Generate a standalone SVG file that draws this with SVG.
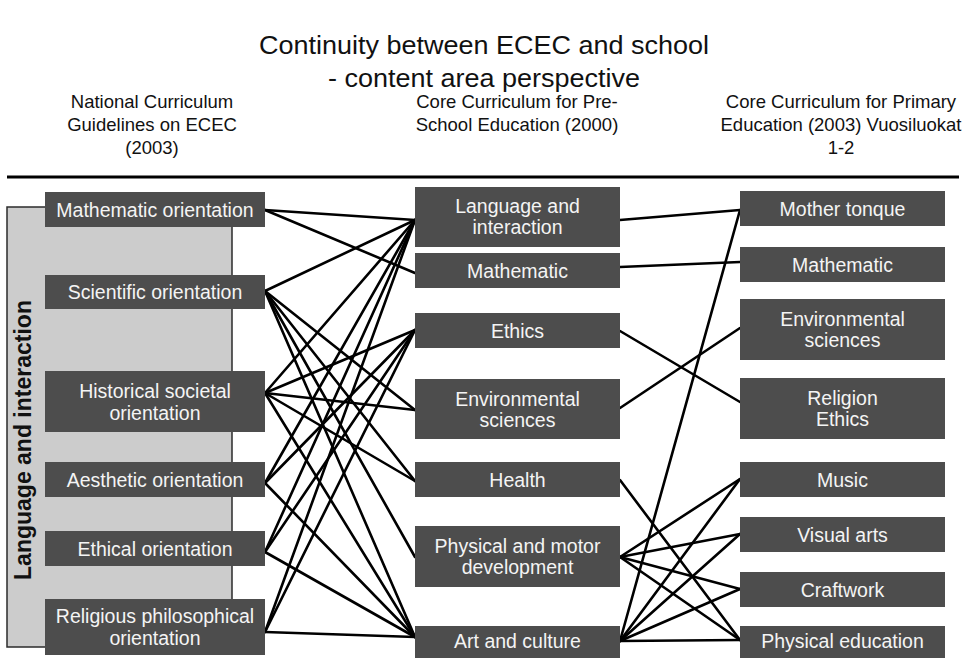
<svg xmlns="http://www.w3.org/2000/svg" width="968" height="658" viewBox="0 0 968 658">
  <style>
    .title { font-family: "Liberation Sans", Arial, sans-serif; font-size: 25px; fill: #111; text-anchor: middle; }
    .head { font-family: "Liberation Sans", Arial, sans-serif; font-size: 18.5px; fill: #111; text-anchor: middle; }
    .box rect { fill: #4d4d4d; }
    .box text { font-family: "Liberation Sans", Arial, sans-serif; font-size: 19.5px; fill: #f4f4f4; text-anchor: middle; }
    .band { fill: #cccccc; stroke: #2b2b2b; stroke-width: 1.5; }
    .band-label { font-family: "Liberation Sans", Arial, sans-serif; font-size: 23px; font-weight: bold; fill: #111; text-anchor: middle; }
    #connectors line { stroke: #000; stroke-width: 2.6; stroke-linecap: round; }
  </style>

  <!-- title, set slightly wide -->
  <g id="title" transform="translate(484,0) scale(1.08,1)">
    <text class="title" x="0" y="54">Continuity between ECEC and school</text>
    <text class="title" x="0" y="87">- content area perspective</text>
  </g>

  <!-- column headings -->
  <g id="heading-ecec">
    <text class="head" x="152" y="108">National Curriculum</text>
    <text class="head" x="152" y="131">Guidelines on ECEC</text>
    <text class="head" x="152" y="154">(2003)</text>
  </g>
  <g id="heading-preschool">
    <text class="head" x="517" y="108">Core Curriculum for Pre-</text>
    <text class="head" x="517" y="131">School Education (2000)</text>
  </g>
  <g id="heading-primary">
    <text class="head" x="841" y="108">Core Curriculum for Primary</text>
    <text class="head" x="841" y="131">Education (2003) Vuosiluokat</text>
    <text class="head" x="841" y="154">1-2</text>
  </g>

  <line x1="7" y1="177" x2="959" y2="177" stroke="#000" stroke-width="3"/>

  <!-- language and interaction band behind the ECEC column -->
  <g id="band-language">
    <rect class="band" x="7" y="207" width="225" height="440"/>
    <text class="band-label" transform="translate(31,440) rotate(-90)">Language and interaction</text>
  </g>

  <!-- connectors -->
  <g id="connectors">
    <!-- ECEC to pre-school -->
    <line x1="265" y1="210" x2="415" y2="220"/>
    <line x1="265" y1="210" x2="415" y2="273"/>
    <line x1="265" y1="291" x2="415" y2="220"/>
    <line x1="265" y1="291" x2="415" y2="410"/>
    <line x1="265" y1="291" x2="415" y2="481"/>
    <line x1="265" y1="291" x2="415" y2="557"/>
    <line x1="265" y1="291" x2="415" y2="637"/>
    <line x1="265" y1="393" x2="415" y2="220"/>
    <line x1="265" y1="393" x2="415" y2="330"/>
    <line x1="265" y1="393" x2="415" y2="410"/>
    <line x1="265" y1="393" x2="415" y2="481"/>
    <line x1="265" y1="393" x2="415" y2="637"/>
    <line x1="265" y1="483" x2="415" y2="220"/>
    <line x1="265" y1="483" x2="415" y2="330"/>
    <line x1="265" y1="483" x2="415" y2="637"/>
    <line x1="265" y1="552" x2="415" y2="220"/>
    <line x1="265" y1="552" x2="415" y2="330"/>
    <line x1="265" y1="552" x2="415" y2="637"/>
    <line x1="265" y1="632" x2="415" y2="220"/>
    <line x1="265" y1="632" x2="415" y2="330"/>
    <line x1="265" y1="632" x2="415" y2="637"/>
    <!-- pre-school to primary -->
    <line x1="620" y1="220" x2="740" y2="210"/>
    <line x1="620" y1="267" x2="740" y2="262"/>
    <line x1="620" y1="331" x2="740" y2="402"/>
    <line x1="620" y1="408" x2="740" y2="328"/>
    <line x1="620" y1="480" x2="740" y2="640"/>
    <line x1="620" y1="557" x2="740" y2="479"/>
    <line x1="620" y1="557" x2="740" y2="534"/>
    <line x1="620" y1="557" x2="740" y2="589"/>
    <line x1="620" y1="557" x2="740" y2="640"/>
    <line x1="620" y1="641" x2="740" y2="210"/>
    <line x1="620" y1="641" x2="740" y2="479"/>
    <line x1="620" y1="641" x2="740" y2="534"/>
    <line x1="620" y1="641" x2="740" y2="589"/>
    <line x1="620" y1="641" x2="740" y2="640"/>
  </g>

  <!-- ECEC column -->
  <g id="ecec-math" class="box"><rect x="45" y="192" width="220" height="35"/><text x="155" y="216.5">Mathematic orientation</text></g>
  <g id="ecec-science" class="box"><rect x="45" y="275" width="220" height="34"/><text x="155" y="299">Scientific orientation</text></g>
  <g id="ecec-history" class="box"><rect x="45" y="371" width="220" height="61"/><text x="155" y="398">Historical societal</text><text x="155" y="420">orientation</text></g>
  <g id="ecec-aesthetic" class="box"><rect x="45" y="462" width="220" height="35"/><text x="155" y="486.5">Aesthetic orientation</text></g>
  <g id="ecec-ethical" class="box"><rect x="45" y="531" width="220" height="35"/><text x="155" y="555.5">Ethical orientation</text></g>
  <g id="ecec-religious" class="box"><rect x="45" y="599" width="220" height="56"/><text x="155" y="623">Religious philosophical</text><text x="155" y="645">orientation</text></g>

  <!-- pre-school column -->
  <g id="pre-language" class="box"><rect x="415" y="187" width="205" height="60"/><text x="517.5" y="213">Language and</text><text x="517.5" y="234">interaction</text></g>
  <g id="pre-math" class="box"><rect x="415" y="253" width="205" height="35"/><text x="517.5" y="277.5">Mathematic</text></g>
  <g id="pre-ethics" class="box"><rect x="415" y="313" width="205" height="35"/><text x="517.5" y="337.5">Ethics</text></g>
  <g id="pre-environment" class="box"><rect x="415" y="379" width="205" height="60"/><text x="517.5" y="405.5">Environmental</text><text x="517.5" y="426.5">sciences</text></g>
  <g id="pre-health" class="box"><rect x="415" y="462" width="205" height="35"/><text x="517.5" y="486.5">Health</text></g>
  <g id="pre-physical" class="box"><rect x="415" y="526" width="205" height="61"/><text x="517.5" y="553">Physical and motor</text><text x="517.5" y="574">development</text></g>
  <g id="pre-art" class="box"><rect x="415" y="626" width="205" height="33"/><text x="517.5" y="648">Art and culture</text></g>

  <!-- primary column -->
  <g id="pri-mother" class="box"><rect x="740" y="191" width="205" height="35"/><text x="842.5" y="215.5">Mother tonque</text></g>
  <g id="pri-math" class="box"><rect x="740" y="247" width="205" height="35"/><text x="842.5" y="271.5">Mathematic</text></g>
  <g id="pri-environment" class="box"><rect x="740" y="299" width="205" height="61"/><text x="842.5" y="326">Environmental</text><text x="842.5" y="347">sciences</text></g>
  <g id="pri-religion" class="box"><rect x="740" y="378" width="205" height="61"/><text x="842.5" y="405">Religion</text><text x="842.5" y="426">Ethics</text></g>
  <g id="pri-music" class="box"><rect x="740" y="462" width="205" height="35"/><text x="842.5" y="486.5">Music</text></g>
  <g id="pri-visual" class="box"><rect x="740" y="517" width="205" height="35"/><text x="842.5" y="541.5">Visual arts</text></g>
  <g id="pri-craft" class="box"><rect x="740" y="572" width="205" height="35"/><text x="842.5" y="596.5">Craftwork</text></g>
  <g id="pri-pe" class="box"><rect x="740" y="626" width="205" height="33"/><text x="842.5" y="648">Physical education</text></g>
</svg>
